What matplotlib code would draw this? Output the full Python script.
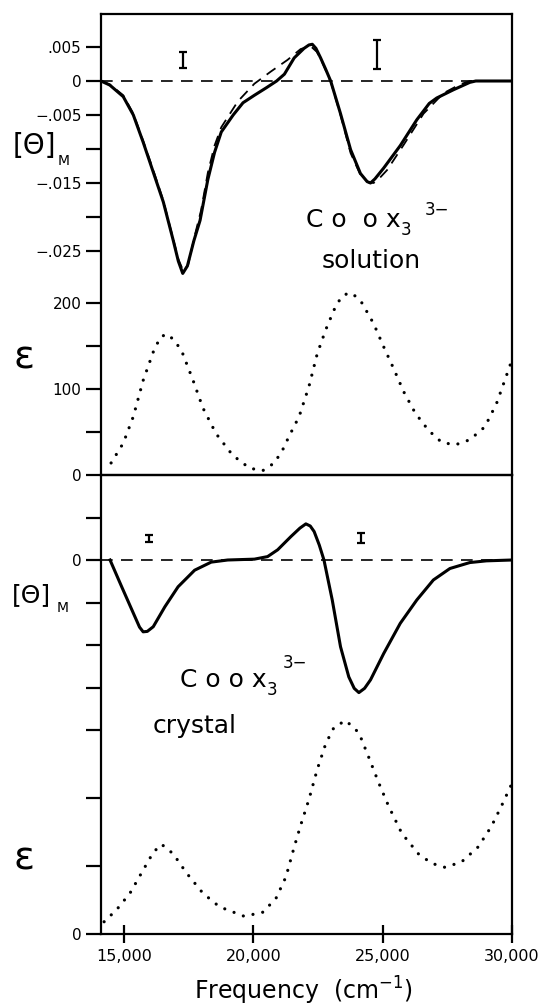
import matplotlib.pyplot as plt

# ---- Co(ox)3 3-, solution: CD (two runs) and absorption ----
sol_cd_freq = [14110, 14450, 14970, 15360, 15740, 16130, 16520, 16900, 17100, 17270,
               17450, 17700, 17940, 18240, 18500, 18760, 19220, 19600, 20040, 20500,
               20900, 21200, 21580, 21960, 22150, 22280, 22420, 22600, 22800, 22990,
               23370, 23760, 24140, 24400, 24530, 24700, 25040, 25680, 26320, 26800,
               27090, 27730, 28370, 28600, 30000]
sol_cd = [0.0, -0.0006, -0.0023, -0.0050, -0.0090, -0.0134, -0.0178, -0.0234, -0.0265, -0.0283,
          -0.0272, -0.0235, -0.0205, -0.0145, -0.0105, -0.0075, -0.0050, -0.0032, -0.0021, -0.0010,
          0.0000, 0.0010, 0.0034, 0.0048, 0.0053, 0.0054, 0.0048, 0.0034, 0.0017, 0.0000,
          -0.0048, -0.0101, -0.0136, -0.0148, -0.0150, -0.0144, -0.0128, -0.0095, -0.0057, -0.0033,
          -0.0025, -0.0013, -0.0002, 0.0, 0.0]

sol_cd2_freq = [14110, 14450, 14970, 15360, 15740, 16130, 16520, 16900, 17100, 17300,
                17480, 17730, 17980, 18240, 18500, 18760, 19400, 20040, 20680, 21320,
                21830, 22100, 22250, 22450, 22600, 22990, 23370, 23760, 24140, 24450,
                24650, 24900, 25170, 25810, 26580, 27350, 27990, 28370, 30000]
sol_cd2 = [0.0, -0.0005, -0.0021, -0.0048, -0.0088, -0.0131, -0.0176, -0.0232, -0.0262, -0.0280,
           -0.0270, -0.0228, -0.0190, -0.0135, -0.0095, -0.0068, -0.0030, -0.0004, 0.0014, 0.0031,
           0.0047, 0.0050, 0.0050, 0.0043, 0.0033, -0.0001, -0.0050, -0.0106, -0.0138, -0.0149,
           -0.0150, -0.0142, -0.0131, -0.0094, -0.0048, -0.0018, -0.0005, 0.0, 0.0]

sol_eps_freq = [14500, 14970, 15360, 15740, 16130, 16400, 16640, 16900, 17220, 17670,
                18050, 18560, 19200, 19850, 20360, 20810, 21130, 21380, 21770, 22150,
                22470, 22800, 23120, 23400, 23690, 23950, 24200, 24650, 25040, 25420,
                25810, 26260, 26770, 27280, 27800, 28370, 28950, 29400, 29720, 30000]
sol_eps = [14, 37, 68, 110, 143, 160, 164, 158, 145, 110,
           78, 48, 23, 8, 5, 14, 29, 45, 68, 103,
           141, 169, 192, 207, 212, 208, 200, 176, 149, 124,
           97, 72, 52, 38, 35, 41, 56, 83, 110, 134]

# ---- Co(ox)3 3-, crystal ----
cry_cd_freq = [14460, 14910, 15360, 15600, 15740, 15900, 16130, 16580, 17090, 17730,
               18370, 19010, 20040, 20550, 20940, 21450, 21800, 22030, 22200, 22350,
               22550, 22730, 23050, 23370, 23690, 23900, 24080, 24300, 24530, 25040,
               25680, 26320, 26960, 27600, 28370, 29010, 30000]
cry_cd = [0.0, -0.63, -1.25, -1.58, -1.69, -1.68, -1.57, -1.10, -0.63, -0.24,
          -0.05, 0.0, 0.02, 0.08, 0.24, 0.55, 0.75, 0.85, 0.80, 0.67,
          0.35, 0.0, -0.94, -2.04, -2.75, -3.02, -3.12, -3.02, -2.82, -2.20,
          -1.49, -0.94, -0.47, -0.20, -0.06, -0.02, 0.0]

cry_eps_freq = [14230, 14720, 15230, 15740, 16130, 16450, 16900, 17410, 18050, 18690,
                19650, 20360, 20870, 21260, 21580, 21830, 22150, 22470, 22800, 23120,
                23570, 24080, 24460, 24850, 25230, 25740, 26380, 26890, 27410, 28050,
                28690, 29200, 29590, 29980]
cry_eps = [9, 18, 30, 47, 60, 66, 59, 45, 30, 20,
           13, 16, 26, 42, 64, 80, 99, 121, 140, 152,
           157, 148, 130, 111, 94, 74, 59, 52, 49, 53,
           64, 79, 94, 110]

# error-bar marks (frequency, value, half height)
sol_err_freq = [17280, 24780]
sol_err_val = [0.0031, 0.0039]
sol_err_half = [0.0012, 0.0021]
cry_err_freq = [15966, 24161]
cry_err_val = [0.51, 0.51]
cry_err_half = [0.08, 0.12]

W, H = 542, 1008
fig = plt.figure(figsize=(W / 100, H / 100), dpi=100)
plt.rcParams['font.family'] = ['DejaVu Sans']


def fx(x):
    return x / W


def fy(y):
    return 1 - y / H


L, R = 101, 512
top = fig.add_axes([fx(L), fy(475), (R - L) / W, (475 - 14) / H])
bot = fig.add_axes([fx(L), fy(934), (R - L) / W, (934 - 475) / H])
bot.patch.set_visible(False)
top_eps = top.twinx()
bot_eps = bot.twinx()

for ax in (top, bot):
    ax.set_xlim(14110, 30000)
    for s in ax.spines.values():
        s.set_linewidth(1.6)
    ax.axhline(0, color='k', lw=1.2, ls=(0, (7, 5)))
    ax.tick_params(axis='y', direction='out', length=11, width=1.6, pad=3, labelsize=11)
for ax in (top_eps, bot_eps):
    ax.yaxis.tick_left()
    for s in ax.spines.values():
        s.set_visible(False)
    ax.tick_params(axis='y', direction='out', length=11, width=1.6, pad=3, labelsize=11)

# top panel: solution
top.set_ylim(-(475 - 81) / 6800, (81 - 14) / 6800)
top.set_yticks([0.005, 0, -0.005, -0.010, -0.015, -0.020, -0.025])
top.set_yticklabels(['.005', '0', '\u2212.005', '', '\u2212.015', '', '\u2212.025'])
top.tick_params(axis='x', bottom=False, labelbottom=False)
top.plot(sol_cd_freq, sol_cd, color='k', lw=2.2)
top.plot(sol_cd2_freq, sol_cd2, color='k', lw=1.3, ls=(0, (6, 4)))
top.errorbar(sol_err_freq, sol_err_val, yerr=sol_err_half, fmt='none',
             ecolor='k', elinewidth=1.6, capsize=3.2, capthick=1.6)

top_eps.set_ylim(0, 461 / 0.86)
top_eps.set_yticks([0, 50, 100, 150, 200])
top_eps.set_yticklabels(['0', '', '100', '', '200'])
top_eps.plot(sol_eps_freq, sol_eps, color='k', lw=2.3, ls=(0, (0.01, 3.1)),
             dash_capstyle='round')

# bottom panel: crystal
bot.set_ylim(-(934 - 560) / 42.5, (560 - 475) / 42.5)
bot.set_yticks([1, 0, -1, -2, -3])
bot.set_yticklabels(['', '0', '', '', ''])
bot.set_xticks([15000, 20000, 25000, 30000])
bot.set_xticklabels(['15,000', '20,000', '25,000', '30,000'])
bot.tick_params(axis='x', direction='inout', length=13, width=1.6, pad=4, labelsize=11.5)
bot.plot(cry_cd_freq, cry_cd, color='k', lw=2.2)
bot.errorbar(cry_err_freq, cry_err_val, yerr=cry_err_half, fmt='none',
             ecolor='k', elinewidth=1.6, capsize=3, capthick=1.6)

bot_eps.set_ylim(0, 459 / 1.36)
bot_eps.set_yticks([0, 50, 100, 150])
bot_eps.set_yticklabels(['0', '', '', ''])
bot_eps.plot(cry_eps_freq, cry_eps, color='k', lw=2.3, ls=(0, (0.01, 3.1)),
             dash_capstyle='round')

# axis labels and annotations
fig.text(fx(13), fy(146), '[\u0398]', fontsize=20, va='center', ha='left')
fig.text(fx(58), fy(165), 'M', fontsize=10, va='baseline', ha='left')
fig.text(fx(12), fy(595), '[\u0398]', fontsize=18, va='center', ha='left')
fig.text(fx(57), fy(612), 'M', fontsize=10, va='baseline', ha='left')
fig.text(fx(24), fy(357), '\u03b5', fontsize=28, va='center', ha='center')
fig.text(fx(24), fy(858), '\u03b5', fontsize=28, va='center', ha='center')

fig.text(fx(306), fy(227), 'C o  o x', fontsize=18, va='baseline', ha='left')
fig.text(fx(401), fy(235), '3', fontsize=12, va='baseline', ha='left')
fig.text(fx(425), fy(215), '3\u2212', fontsize=12, va='baseline', ha='left')
fig.text(fx(371), fy(268), 'solution', fontsize=18, va='baseline', ha='center')

fig.text(fx(180), fy(687), 'C o o x', fontsize=18, va='baseline', ha='left')
fig.text(fx(267), fy(695), '3', fontsize=12, va='baseline', ha='left')
fig.text(fx(283), fy(668), '3\u2212', fontsize=12, va='baseline', ha='left')
fig.text(fx(153), fy(733), 'crystal', fontsize=18, va='baseline', ha='left')

fig.text(fx(303), fy(1000), 'Frequency  (cm$^{-1}$)', fontsize=17,
         va='baseline', ha='center')

fig.savefig('out.png', dpi=100)
